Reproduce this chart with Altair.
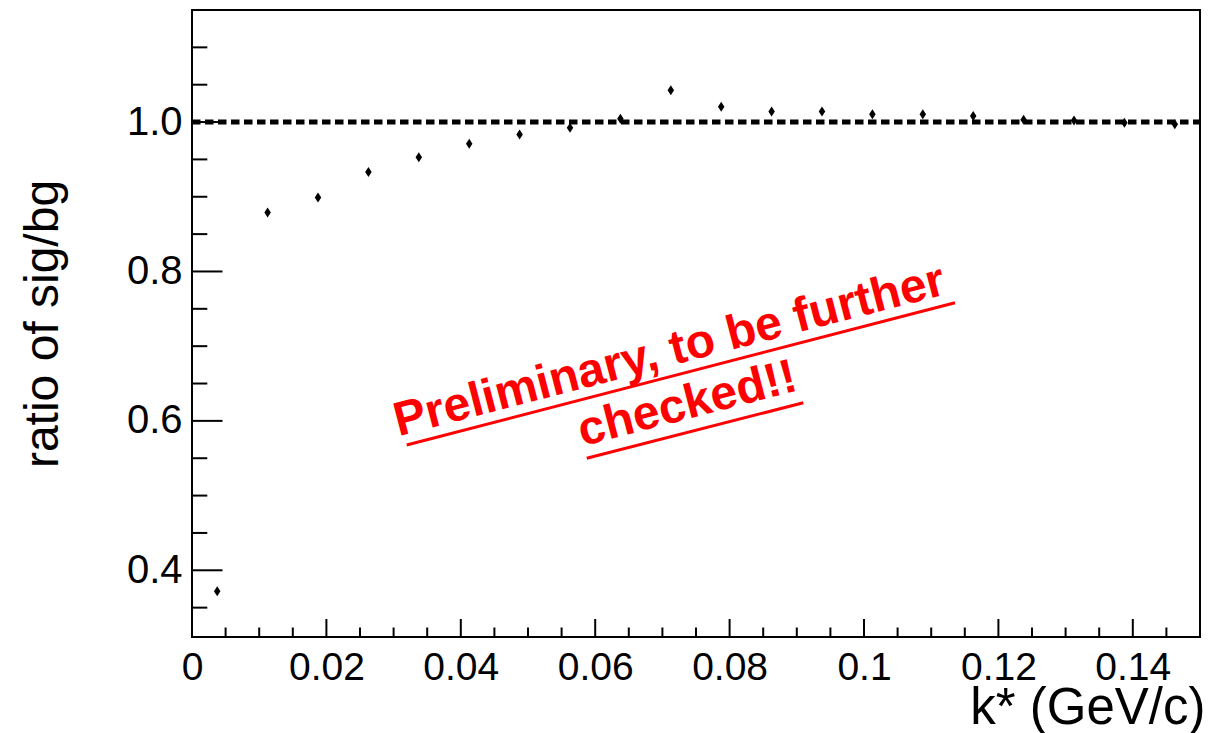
import altair as alt
import pandas as pd

# ---- data ----
k_star = [0.00375, 0.01125, 0.01875, 0.02625, 0.03375, 0.04125, 0.04875,
          0.05625, 0.06375, 0.07125, 0.07875, 0.08625, 0.09375, 0.10125,
          0.10875, 0.11625, 0.12375, 0.13125, 0.13875, 0.14625]
ratio = [0.372, 0.879, 0.899, 0.933, 0.953, 0.971, 0.9835, 0.9925, 1.0045,
         1.0425, 1.0205, 1.014, 1.014, 1.0105, 1.0105, 1.008, 1.003, 1.002,
         0.999, 0.997]

ref_x = [0.0, 0.15]
ref_y = [1.0, 1.0]

x_major = [0.0, 0.02, 0.04, 0.06, 0.08, 0.10, 0.12, 0.14]
x_minor = [0.005, 0.01, 0.015, 0.025, 0.03, 0.035, 0.045, 0.05, 0.055,
           0.065, 0.07, 0.075, 0.085, 0.09, 0.095, 0.105, 0.11, 0.115,
           0.125, 0.13, 0.135, 0.145]
y_major = [0.4, 0.6, 0.8, 1.0]
y_minor = [0.35, 0.45, 0.5, 0.55, 0.65, 0.7, 0.75, 0.85, 0.9, 0.95, 1.05, 1.1]

note_text = ["Preliminary, to be further", "checked!!"]
note_x = [0.07158, 0.07426]
note_y = [0.6748, 0.6038]
uline_x = [0.03195, 0.05874]
uline_x2 = [0.11354, 0.09097]
uline_y = [0.5677, 0.5499]
uline_y2 = [0.7582, 0.6243]

X_DOMAIN = [0.0, 0.15]
Y_DOMAIN = [0.3107, 1.15]
W, H = 1008, 627
FONT = "Liberation Sans"

xs = alt.Scale(domain=X_DOMAIN, nice=False, zero=False)
ys = alt.Scale(domain=Y_DOMAIN, nice=False, zero=False)

pts = pd.DataFrame({"k": k_star, "r": ratio})
ref = pd.DataFrame({"k": ref_x, "r": ref_y})
xmaj = pd.DataFrame({"k": x_major[1:]})
xmin = pd.DataFrame({"k": x_minor})
ymaj = pd.DataFrame({"r": y_major})
ymin = pd.DataFrame({"r": y_minor})
notes = pd.DataFrame({"t": note_text, "k": note_x, "r": note_y})
ulines = pd.DataFrame({"k": uline_x, "k2": uline_x2, "r": uline_y, "r2": uline_y2})

x_axis = alt.Axis(
    values=x_major, format="~g", grid=False, ticks=False, tickSize=0, domain=False,
    labelFontSize=39, labelFont=FONT, labelColor="black", labelPadding=11,
    labelFlush=False, labelOverlap=False,
    title="k* (GeV/c)", titleFont=FONT, titleFontSize=51, titleFontWeight="normal",
    titleColor="black", titleAlign="right", titleBaseline="alphabetic",
    titleX=1013, titleY=86, titleAnchor="end",
)
y_axis = alt.Axis(
    values=y_major, format=".1f", grid=False, ticks=False, tickSize=0, domain=False,
    labelFontSize=40, labelFont=FONT, labelColor="black", labelPadding=10,
    labelBaseline="middle", labelFlush=False, labelOverlap=False,
    title="ratio of sig/bg", titleFont=FONT, titleFontSize=48, titleFontWeight="normal",
    titleColor="black", titleAngle=270, titleAlign="center", titleBaseline="alphabetic",
    titleX=-135, titleY=313.5,
)

base_pts = alt.Chart(pts).mark_point(
    shape="M0,-1L0.65,0L0,1L-0.65,0Z", filled=True, color="black", opacity=1, size=100
).encode(
    x=alt.X("k:Q", scale=xs, axis=x_axis),
    y=alt.Y("r:Q", scale=ys, axis=y_axis),
)

ref_line = alt.Chart(ref).mark_line(
    color="black", strokeWidth=5, strokeDash=[8.5, 4.5]
).encode(x=alt.X("k:Q", scale=xs), y=alt.Y("r:Q", scale=ys))

xt_major = alt.Chart(xmaj).mark_rule(color="black", strokeWidth=2).encode(
    x=alt.X("k:Q", scale=xs), y=alt.value(H), y2=alt.value(H - 18))
xt_minor = alt.Chart(xmin).mark_rule(color="black", strokeWidth=2).encode(
    x=alt.X("k:Q", scale=xs), y=alt.value(H), y2=alt.value(H - 9.5))
yt_major = alt.Chart(ymaj).mark_rule(color="black", strokeWidth=2).encode(
    y=alt.Y("r:Q", scale=ys), x=alt.value(0), x2=alt.value(30.5))
yt_minor = alt.Chart(ymin).mark_rule(color="black", strokeWidth=2).encode(
    y=alt.Y("r:Q", scale=ys), x=alt.value(0), x2=alt.value(15.3))

note = alt.Chart(notes).mark_text(
    font=FONT, fontSize=48, fontWeight="bold", color="#ff0000",
    angle=345.45, align="center", baseline="alphabetic"
).encode(x=alt.X("k:Q", scale=xs), y=alt.Y("r:Q", scale=ys), text="t:N")

underline = alt.Chart(ulines).mark_rule(color="#ff0000", strokeWidth=3).encode(
    x=alt.X("k:Q", scale=xs), x2="k2:Q",
    y=alt.Y("r:Q", scale=ys), y2="r2:Q")

chart = alt.layer(
    xt_major, xt_minor, yt_major, yt_minor, ref_line, base_pts, underline, note
).properties(
    width=W, height=H,
    autosize=alt.AutoSizeParams(type="none"),
    padding={"left": 192, "top": 10, "right": 8, "bottom": 96},
    background="white",
).configure_view(
    stroke="black", strokeWidth=2
)

chart.save("out.html", embed_options={"renderer": "svg", "actions": False})
